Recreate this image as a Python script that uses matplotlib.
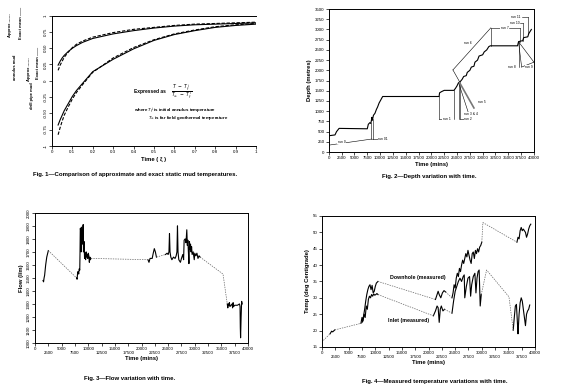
import matplotlib
matplotlib.use("Agg")
import matplotlib.pyplot as plt

plt.rcParams['font.family'] = ['Liberation Sans', 'DejaVu Sans']

# ---- Fig 1 data (dimensionless temperature vs time) ----
t_mud = [0.03, 0.04, 0.05, 0.06, 0.08, 0.1, 0.12, 0.15, 0.2, 0.3, 0.4, 0.5, 0.6, 0.7, 0.8, 0.9, 1.0]
ann_exact = [0.24, 0.30, 0.35, 0.39, 0.45, 0.50, 0.54, 0.59, 0.65, 0.72, 0.77, 0.81, 0.84, 0.86, 0.87, 0.88, 0.89]
ann_approx = [0.16, 0.24, 0.30, 0.36, 0.44, 0.51, 0.56, 0.61, 0.67, 0.74, 0.79, 0.82, 0.85, 0.87, 0.88, 0.89, 0.90]
pipe_exact = [-0.68, -0.60, -0.53, -0.46, -0.35, -0.24, -0.15, -0.04, 0.14, 0.33, 0.49, 0.62, 0.71, 0.77, 0.82, 0.85, 0.87]
pipe_approx = [-0.83, -0.72, -0.62, -0.53, -0.40, -0.28, -0.18, -0.06, 0.13, 0.35, 0.51, 0.63, 0.72, 0.78, 0.83, 0.86, 0.88]

# ---- Fig 2 data (depth vs time) ----
depth_t = [0, 1200, 1500, 2000, 7500, 7700, 8000, 8200, 8400, 8500, 8700, 9000, 9300, 9500, 9800, 10500,
           21500, 21600, 22000, 22500, 24400, 24700, 25000, 25300, 25600, 26000, 26300, 26800, 27000, 27500,
           27800, 28300, 28500, 29000, 29300, 30000, 30300, 30800, 31200, 31500, 36800, 37000, 37500, 37800,
           38000, 38800, 39000, 39500]
depth_m = [400, 420, 500, 580, 570, 680, 720, 700, 850, 780, 900, 950, 1050, 1100, 1200, 1360,
           1360, 1450, 1480, 1510, 1510, 1560, 1620, 1700, 1720, 1780, 1850, 1870, 1950, 2000,
           2080, 2100, 2200, 2250, 2350, 2380, 2450, 2500, 2580, 2600, 2600, 2700, 2720, 2720,
           2800, 2820, 2900, 3000]
run_labels = ["run 0", "run 01", "run 1", "run 2", "run 3 & 4", "run 5", "run 6", "run 7",
              "run 8", "run 9", "run 10", "run 11"]
run_label_t = [2500, 10600, 23000, 27200, 27800, 29800, 27100, 34300, 35700, 39000, 36200, 36400]
run_label_d = [245, 320, 810, 810, 930, 1225, 2670, 3040, 2080, 2080, 3160, 3300]

# ---- Fig 3 data (flow vs time) ----
flow1_t = [1500, 1600, 1700, 1800, 2000, 2200, 2500]
flow1 = [1480, 1470, 1500, 1520, 1600, 1660, 1710]
flow2_t = [7800, 7900, 8000, 8100, 8200, 8300, 8400, 8450, 8500, 8600, 8650, 8700, 8800, 8900, 9000, 9050,
           9100, 9200, 9300, 9400, 9500, 9600, 9700, 9800, 9900, 10000, 10100, 10200, 10300, 10400, 10500]
flow2 = [1500, 1490, 1540, 1550, 1530, 1570, 1560, 1700, 1880, 1860, 1700, 1890, 1800, 1760, 1900, 1910,
         1700, 1780, 1650, 1690, 1640, 1700, 1660, 1680, 1650, 1690, 1670, 1620, 1660, 1640, 1650]
flow3_t = [21200, 21400, 21600, 22000, 22200, 22400, 22600, 22800]
flow3 = [1640, 1620, 1650, 1650, 1690, 1725, 1700, 1660]
flow4_t = [24500, 24800, 25000, 25150, 25250, 25350, 25500, 25700, 26000, 26300, 26500, 26650, 26750, 26850,
           27000, 27300, 27500, 27750, 27900, 28000, 28200, 28350, 28500, 28600, 28700, 28800, 28900, 29000,
           29100, 29200, 29300, 29400, 29500, 29700, 29900, 30000, 30200, 30400, 30600, 30800, 31000]
flow4 = [1680, 1690, 1680, 1700, 1840, 1700, 1660, 1640, 1660, 1650, 1670, 1700, 1900, 1700,
         1640, 1620, 1650, 1680, 1640, 1790, 1800, 1770, 1870, 1750, 1790, 1700, 1610, 1780,
         1720, 1760, 1700, 1740, 1680, 1700, 1640, 1690, 1670, 1690, 1650, 1670, 1660]
flow5_t = [36100, 36200, 36300, 36400, 36500, 36600, 36800, 37000, 37100, 37200, 37300, 37500, 37700,
           38000, 38400, 38500, 38550, 38600, 38700, 38800, 38900]
flow5 = [1300, 1270, 1300, 1290, 1310, 1280, 1290, 1300, 1270, 1310, 1280, 1290, 1290,
         1290, 1300, 1280, 1120, 1040, 1200, 1320, 1300]
flow_gap_t = [[2500, 7800], [10500, 21200], [22800, 24500], [31000, 35300, 36100]]
flow_gap = [[1710, 1500], [1650, 1640], [1660, 1680], [1660, 1530, 1300]]

# ---- Fig 4 data (temperature vs time) ----
start_t = [1500, 1800, 2000, 2400]
start_temp = [19.0, 19.8, 19.6, 20.2]
dh1_t = [7300, 7500, 7600, 7800, 8000, 8200, 8400, 8600, 8800, 9000, 9200, 9400, 9600, 9800, 10000, 10200, 10500]
dh1 = [22.2, 24.0, 22.8, 24.5, 26.5, 29.0, 31.0, 32.5, 33.5, 34.0, 32.5, 33.8, 31.5, 32.0, 33.5, 34.5, 35.0]
dh2_t = [21300, 21500, 21800, 22000, 22300, 22600, 22900, 23200]
dh2 = [29.5, 30.5, 32.0, 31.0, 30.0, 31.5, 32.2, 31.8]
dh3_t = [24400, 24600, 24800, 25000, 25200, 25400, 25600, 25800, 26000, 26200, 26400, 26600, 26800, 27000, 27200,
         27400, 27600, 27800, 28000, 28200, 28400, 28600, 28800, 29000, 29200, 29400, 29600, 29800, 30000]
dh3 = [30.0, 31.5, 34.0, 33.0, 36.0, 37.5, 36.5, 39.0, 38.0, 40.0, 41.5, 40.5, 42.0, 43.5, 42.5,
       44.5, 43.0, 41.5, 40.5, 43.5, 44.0, 42.0, 44.5, 43.5, 45.0, 44.0, 45.5, 46.0, 47.0]
dh4_t = [36600, 36800, 37000, 37200, 37400, 37600, 37800, 38000, 38200, 38400, 38600, 38800, 39000, 39200]
dh4 = [47.0, 48.5, 48.0, 50.5, 51.5, 50.5, 51.0, 50.5, 50.0, 48.5, 49.5, 51.0, 52.0, 52.5]
in1_t = [7500, 7700, 7900, 8100, 8300, 8500, 8700, 8900, 9100, 9300, 9500, 9700, 9900, 10100, 10300, 10500]
in1 = [22.5, 23.0, 25.0, 24.0, 27.5, 26.5, 29.5, 30.5, 30.0, 31.0, 30.5, 31.2, 30.8, 31.0, 31.3, 31.0]
in2_t = [20900, 21300, 21600, 21800, 22000, 22200, 22400, 22700, 23000]
in2 = [24.5, 26.0, 27.5, 27.0, 22.5, 26.5, 27.5, 26.0, 26.5]
in3_t = [24400, 24700, 25000, 25300, 25600, 25900, 26200, 26500, 26700, 26800, 27100, 27400, 27700, 27900,
         28100, 28400, 28700, 28900, 29100, 29300, 29500, 29700, 29900]
in3 = [25.3, 29.0, 32.0, 33.5, 35.0, 36.0, 35.0, 36.5, 37.0, 30.0, 33.5, 36.0, 36.5, 30.5,
       34.0, 36.5, 37.5, 31.5, 36.0, 38.0, 38.5, 27.5, 31.0]
in4_t = [35900, 36100, 36300, 36500, 36700, 36800, 37000, 37200, 37400, 37600, 37800, 38000, 38200, 38400,
         38600, 38800, 39000]
in4 = [20.1, 24.0, 27.5, 28.0, 22.0, 19.0, 25.0, 28.5, 30.0, 29.0, 26.5, 24.0, 21.5, 25.0, 26.0, 26.5, 27.8]
temp_gap_t = [[250, 1500], [2400, 7300], [10500, 21300], [23200, 24400], [30000, 30200, 36600],
              [10500, 20900], [23000, 24400], [29900, 30900, 35100, 35900]]
temp_gap = [[17.0, 19.0], [20.2, 22.2], [35.0, 29.5], [31.8, 30.0], [47.0, 53.0, 47.0],
            [31.0, 24.5], [26.5, 25.3], [31.0, 38.5, 30.3, 20.1]]

time_ticks = list(range(0, 40001, 2500))

fig = plt.figure(figsize=(5.65, 3.92), dpi=100)
fig.patch.set_facecolor('white')

tick_fs = 3.2
lab_fs = 4.2
cap_fs = 4.3


def style(ax):
    ax.tick_params(direction='out', length=2, width=0.5, labelsize=tick_fs, pad=1)
    for s in ax.spines.values():
        s.set_linewidth(0.7)


def stagger_time(ax):
    ax.set_xticks(time_ticks[0::2], [str(v) for v in time_ticks[0::2]])
    ax.set_xticks(time_ticks[1::2], [str(v) for v in time_ticks[1::2]], minor=True)
    ax.tick_params(axis='x', which='major', pad=1, labelsize=tick_fs)
    ax.tick_params(axis='x', which='minor', direction='out', length=2, width=0.5, pad=3.5, labelsize=tick_fs)
    ax.set_xlim(0, 40000)


# ---------------- Fig 1 ----------------
ax1 = fig.add_axes([0.092, 0.628, 0.361, 0.332])
ax1.plot(t_mud, ann_exact, color='black', lw=0.8)
ax1.plot(t_mud, ann_approx, color='black', lw=0.8, ls=(0, (3, 1.5)))
ax1.plot(t_mud, pipe_exact, color='black', lw=0.8)
ax1.plot(t_mud, pipe_approx, color='black', lw=0.8, ls=(0, (3, 1.5)))
ax1.set_xlim(0, 1)
ax1.set_ylim(-1, 1)
ax1.set_xticks([i / 10 for i in range(11)], ['0'] + [f'{i / 10:g}' for i in range(1, 10)] + ['1'])
ax1.set_yticks([-1, -0.75, -0.5, -0.25, 0, 0.25, 0.5, 0.75, 1],
               ['-1', '-0.75', '-0.50', '-0.25', '0', '0.25', '0.50', '0.75', '1'])
style(ax1)
for lbl in ax1.get_yticklabels():
    lbl.set_rotation(90)
    lbl.set_va('center')
ax1.spines['right'].set_visible(False)
ax1.set_xlabel('Time ( ξ )', fontsize=lab_fs, fontweight='bold', labelpad=2)
ax1.text(0.40, -0.16, 'Expressed as', fontsize=3.5, fontweight='bold', va='center')
ax1.text(0.585, -0.16, r'$\frac{T\ -\ T_f^{\,i}}{T_\infty\ -\ T_f^{\,i}}$', fontsize=4.8, va='center')
ax1.text(0.40, -0.46, r'where $T_f^{\,i}$ is initial annulus temperature', fontsize=3.2,
         fontweight='bold', va='center')
ax1.text(0.47, -0.58, r'$T_\infty$ is far field geothermal temperature', fontsize=3.2,
         fontweight='bold', va='center')

# rotated legend on the left
leg = dict(rotation=90, fontsize=3.0, fontweight='bold', va='top', ha='center')
fig.text(0.018, 0.967, 'Approx ------', **leg)
fig.text(0.027, 0.86, 'annulus mud', **leg)
fig.text(0.037, 0.982, 'Exact mean ——', **leg)
fig.text(0.051, 0.855, 'Approx ------', **leg)
fig.text(0.057, 0.79, 'drill pipe mud', **leg)
fig.text(0.067, 0.88, 'Exact mean ——', **leg)

fig.text(0.058, 0.552, 'Fig. 1—Comparison of approximate and exact static mud temperatures.',
         fontsize=cap_fs, fontweight='bold', ha='left')

# ---------------- Fig 2 ----------------
ax2 = fig.add_axes([0.582, 0.612, 0.363, 0.365])
ax2.plot(depth_t, depth_m, color='black', lw=0.8)
ax2.set_xlim(0, 40000)
ax2.set_ylim(0, 3500)
ax2.set_xticks(time_ticks, [str(v) for v in time_ticks])
ax2.set_yticks(range(0, 3501, 250))
style(ax2)
ax2.set_xlabel('Time (mins)', fontsize=lab_fs, fontweight='bold', labelpad=1.5)
ax2.set_ylabel('Depth (metres)', fontsize=lab_fs, fontweight='bold', labelpad=2)
lk = dict(color='black', lw=0.4)
# run brackets
ax2.plot([0, 8400], [170, 320], **lk)
ax2.plot([8200, 8200], [320, 700], **lk)
ax2.plot([8600, 8600], [320, 800], **lk)
ax2.plot([8400, 9700], [320, 320], **lk)
ax2.plot([21500, 21500], [810, 1360], **lk)
ax2.plot([24400, 24400], [810, 1510], **lk)
ax2.plot([21500, 22400], [810, 810], **lk)
ax2.plot([25300, 25300], [810, 1700], **lk)
ax2.plot([25600, 25600], [810, 1720], **lk)
ax2.plot([25600, 26400], [810, 810], **lk)
ax2.plot([25300, 27300], [1700, 930], **lk)
ax2.plot([25500, 28300], [1700, 1080], color='#777777', lw=1.2)
ax2.plot([24200, 25500], [2010, 1720], **lk)
ax2.plot([24200, 31600], [2010, 3040], **lk)
ax2.plot([31600, 31600], [3040, 2600], **lk)
ax2.plot([31600, 33600], [3040, 3040], **lk)
ax2.plot([35200, 37200], [3040, 3040], **lk)
ax2.plot([37200, 37200], [3040, 2700], **lk)
ax2.plot([37300, 37900], [3160, 3160], **lk)
ax2.plot([37900, 37900], [3160, 2720], **lk)
ax2.plot([37600, 38800], [3300, 3300], **lk)
ax2.plot([38800, 38800], [3300, 2900], **lk)
ax2.plot([37000, 37000], [2700, 2080], **lk)
ax2.plot([37000, 37600], [2700, 2080], **lk)
ax2.plot([37000, 40000], [2700, 2200], **lk)
ax2.plot([37600, 40000], [2080, 2200], **lk)
for lab, tx, dy in zip(run_labels, run_label_t, run_label_d):
    ax2.text(tx, dy, lab, fontsize=2.4, ha='center', va='center',
             bbox=dict(facecolor='white', edgecolor='none', pad=0.3))

fig.text(0.76, 0.545, 'Fig. 2—Depth variation with time.', fontsize=cap_fs, fontweight='bold', ha='center')

# ---------------- Fig 3 ----------------
ax3 = fig.add_axes([0.062, 0.125, 0.377, 0.332])
for tt, vv in zip([flow1_t, flow2_t, flow3_t, flow4_t, flow5_t], [flow1, flow2, flow3, flow4, flow5]):
    ax3.plot(tt, vv, color='black', lw=0.8)
for tt, vv in zip(flow_gap_t, flow_gap):
    ax3.plot(tt, vv, color='#666666', lw=0.5, ls=(0, (2, 1.5)))
ax3.set_ylim(1000, 2000)
ax3.set_yticks(range(1000, 2001, 100))
style(ax3)
stagger_time(ax3)
for lbl in ax3.get_yticklabels():
    lbl.set_rotation(90)
    lbl.set_va('center')
ax3.set_xlabel('Time (mins)', fontsize=lab_fs, fontweight='bold', labelpad=1)
ax3.set_ylabel('Flow (l/m)', fontsize=lab_fs, fontweight='bold', labelpad=2)
fig.text(0.23, 0.03, 'Fig. 3—Flow variation with time.', fontsize=cap_fs, fontweight='bold', ha='center')

# ---------------- Fig 4 ----------------
ax4 = fig.add_axes([0.570, 0.115, 0.377, 0.334])
ax4.plot(start_t, start_temp, color='black', lw=0.8)
for tt, vv in zip([dh1_t, dh2_t, dh3_t, dh4_t, in1_t, in2_t, in3_t, in4_t],
                  [dh1, dh2, dh3, dh4, in1, in2, in3, in4]):
    ax4.plot(tt, vv, color='black', lw=0.8)
for tt, vv in zip(temp_gap_t, temp_gap):
    ax4.plot(tt, vv, color='#666666', lw=0.5, ls=(0, (2, 1.5)))
ax4.set_ylim(15, 55)
ax4.set_yticks(range(15, 56, 5))
style(ax4)
stagger_time(ax4)
ax4.set_xlabel('Time (mins)', fontsize=lab_fs, fontweight='bold', labelpad=1)
ax4.set_ylabel('Temp (deg Centigrade)', fontsize=lab_fs, fontweight='bold', labelpad=2)
ax4.text(12700, 36.1, 'Downhole (measured)', fontsize=3.8, fontweight='bold', va='center')
ax4.text(12400, 23.2, 'Inlet (measured)', fontsize=3.8, fontweight='bold', va='center')
fig.text(0.77, 0.022, 'Fig. 4—Measured temperature variations with time.', fontsize=cap_fs,
         fontweight='bold', ha='center')

fig.savefig('out.png', dpi=100, facecolor='white')
